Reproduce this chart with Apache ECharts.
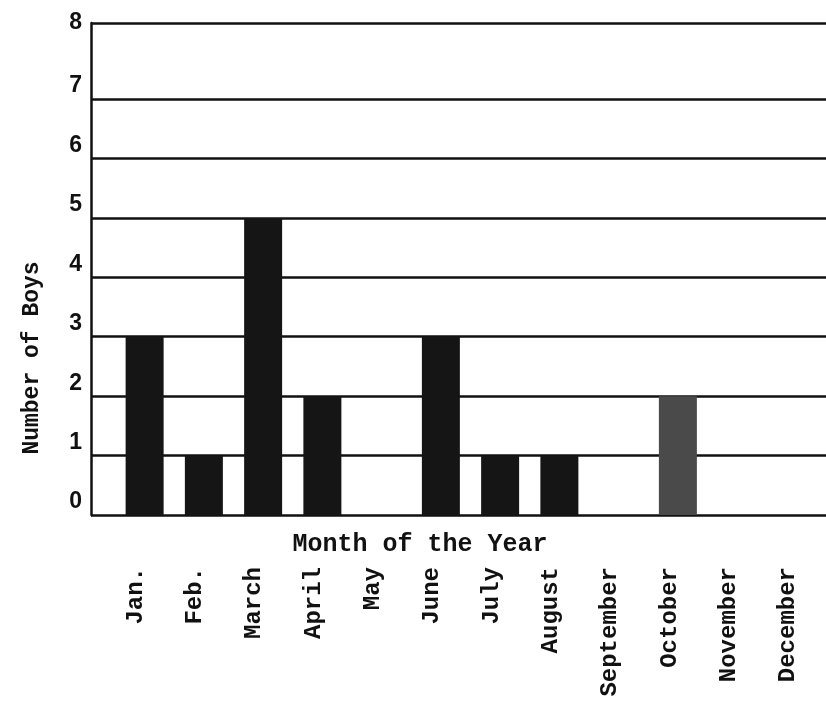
<!DOCTYPE html>
<html>
<head>
<meta charset="utf-8">
<script src="https://cdn.jsdelivr.net/npm/echarts@6/dist/echarts.min.js"></script>
<style>
  html, body { margin: 0; padding: 0; background: #fff; }
  #chart { width: 826px; height: 703px; }
</style>
</head>
<body>
<div id="chart"></div>
<script>
  // Boys per month of the year
  var months = ['Jan.', 'Feb.', 'March', 'April', 'May', 'June', 'July',
    'August', 'September', 'October', 'November', 'December'];
  var boys = [3, 1, 5, 2, 0, 3, 1, 1, 0, 2, 0, 0];
  // ruled lines of the form; the top one is labelled 8
  var yTicks = [0, 1, 2, 3, 4, 5, 6, 7];
  var yTop = 8.28;

  var ink = '#111';
  var typeFont = '"Liberation Mono", "DejaVu Sans Mono", monospace';
  var ruled = yTicks.concat([yTop]);

  var chart = echarts.init(document.getElementById('chart'));
  var option = {
    backgroundColor: '#fff',
    animation: false,
    grid: [
      // ruled form
      { left: 91, right: 0, top: 23, bottom: 188 },
      // bars (typed a little right of the month names)
      { left: 115, right: 0, top: 23, bottom: 188 },
      // month names
      { left: 106, right: 8, top: 23, bottom: 188 }
    ],
    xAxis: [
      { gridIndex: 0, type: 'value', min: 0, max: 1, show: false },
      { gridIndex: 1, type: 'category', data: months, show: false },
      {
        gridIndex: 2,
        type: 'category',
        data: months,
        axisLine: { show: false },
        axisTick: { show: false },
        axisLabel: {
          interval: 0,
          rotate: 90,
          margin: 52,
          color: ink,
          fontFamily: typeFont,
          fontWeight: 'bold',
          fontSize: 24
        }
      }
    ],
    yAxis: [
      {
        gridIndex: 0,
        type: 'value',
        min: 0,
        max: yTop,
        axisLine: { show: true, lineStyle: { color: ink, width: 2.5 } },
        axisTick: { show: false, customValues: ruled },
        splitLine: { show: true, lineStyle: { color: ink, width: 2.5 } },
        axisLabel: {
          customValues: ruled,
          margin: 9,
          formatter: function(v) {
            return v === yTop ? '{t|8}' : '{n|' + v + '}';
          },
          rich: {
            n: { fontFamily: 'Liberation Sans', fontWeight: 'bold', fontSize: 23, color: ink, padding: [0, 0, 26, 0] },
            t: { fontFamily: 'Liberation Sans', fontWeight: 'bold', fontSize: 23, color: ink }
          }
        }
      },
      { gridIndex: 1, type: 'value', min: 0, max: yTop, show: false },
      { gridIndex: 2, type: 'value', min: 0, max: yTop, show: false }
    ],
    graphic: [
      {
        type: 'text',
        x: 420,
        y: 545,
        style: {
          text: 'Month of the Year',
          font: 'bold 25px ' + typeFont,
          fill: ink,
          textAlign: 'center',
          textVerticalAlign: 'middle'
        }
      },
      {
        type: 'text',
        x: 32,
        y: 358,
        rotation: Math.PI / 2,
        style: {
          text: 'Number of Boys',
          font: 'bold 23px ' + typeFont,
          fill: ink,
          textAlign: 'center',
          textVerticalAlign: 'middle'
        }
      }
    ],
    series: [
      {
        name: 'Number of Boys',
        type: 'bar',
        xAxisIndex: 1,
        yAxisIndex: 1,
        barWidth: 38,
        data: boys,
        itemStyle: {
          color: function(p) {
            return p.name === 'October' ? '#4a4a4a' : '#151515';
          }
        }
      }
    ]
  };
  chart.setOption(option);
</script>
</body>
</html>
